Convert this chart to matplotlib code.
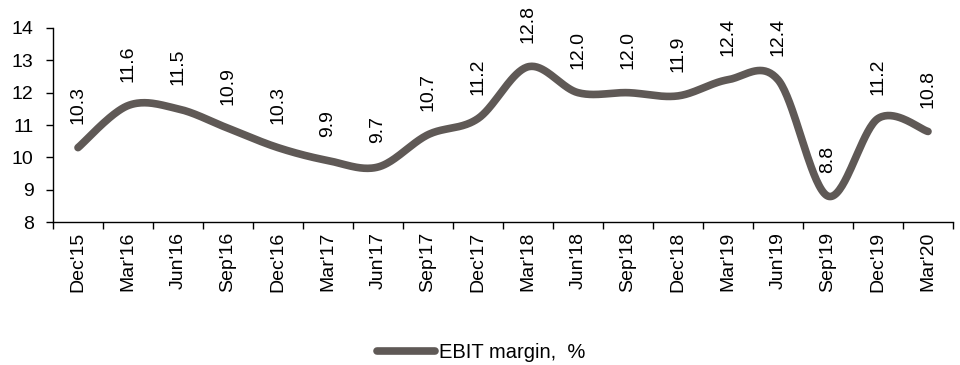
import numpy as np
import matplotlib
matplotlib.use("Agg")
import matplotlib.pyplot as plt
from matplotlib.lines import Line2D

categories = ["Dec'15", "Mar'16", "Jun'16", "Sep'16", "Dec'16", "Mar'17", "Jun'17",
              "Sep'17", "Dec'17", "Mar'18", "Jun'18", "Sep'18", "Dec'18", "Mar'19",
              "Jun'19", "Sep'19", "Dec'19", "Mar'20"]
ebit_margin = [10.3, 11.6, 11.5, 10.9, 10.3, 9.9, 9.7, 10.7, 11.2, 12.8,
               12.0, 12.0, 11.9, 12.4, 12.4, 8.8, 11.2, 10.8]
series_name = "EBIT margin,  %"
yticks = [8, 9, 10, 11, 12, 13, 14]

plt.rcParams['font.family'] = ['Liberation Sans', 'DejaVu Sans']
FS = 14
color = '#5f5956'

fig = plt.figure(figsize=(9.6, 3.65), dpi=100)
ax = fig.add_axes([53/960, 1-222/365, 900/960, 194/365])

x = np.arange(len(ebit_margin), dtype=float)
y = np.array(ebit_margin, dtype=float)

# Excel-like smoothed line (cubic Bezier, Catmull-Rom tangents)
def smooth(xs, ys, n=40):
    P = np.column_stack([xs, ys])
    out = []
    m = len(P)
    for i in range(m - 1):
        p0 = P[i - 1] if i > 0 else P[i]
        p1 = P[i]
        p2 = P[i + 1]
        p3 = P[i + 2] if i + 2 < m else P[i + 1]
        c1 = p1 + (p2 - p0) / 6
        c2 = p2 - (p3 - p1) / 6
        t = np.linspace(0, 1, n)[:, None]
        seg = (1-t)**3*p1 + 3*(1-t)**2*t*c1 + 3*(1-t)*t**2*c2 + t**3*p2
        out.append(seg if i == 0 else seg[1:])
    return np.vstack(out)

S = smooth(x, y)
ax.plot(S[:, 0], S[:, 1], color=color, lw=5.5, solid_capstyle='round',
        solid_joinstyle='round', zorder=3)

for xi, yi in zip(x, y):
    ax.annotate(f"{yi:.1f}", (xi, yi), xytext=(0, 17), textcoords='offset points',
                rotation=90, ha='center', va='bottom', fontsize=FS)

ax.set_xlim(-0.5, len(categories) - 0.5)
ax.set_ylim(8, 14)
ax.set_yticks(yticks)
ax.set_yticklabels([str(v) for v in yticks], fontsize=FS)
ax.set_xticks(x)
ax.set_xticklabels(categories, rotation=90, fontsize=FS)
ax.set_xticks(np.arange(-0.5, len(categories)), minor=True)
ax.tick_params(axis='x', which='major', length=0, pad=7)
ax.tick_params(axis='x', which='minor', length=5, width=1, direction='out')
ax.tick_params(axis='y', length=5, width=1, direction='out', pad=9)
for s in ['top', 'right']:
    ax.spines[s].set_visible(False)
for s in ['left', 'bottom']:
    ax.spines[s].set_color('black')
    ax.spines[s].set_linewidth(1)

handle = Line2D([], [], color=color, lw=5.5, solid_capstyle='round')
fig.legend([handle], [series_name], loc='center', bbox_to_anchor=(481/960, 1-353/365),
           frameon=False, fontsize=14.5, handlelength=2.9, handletextpad=0.2,
           borderpad=0, borderaxespad=0)

fig.savefig("out.png", dpi=100)
